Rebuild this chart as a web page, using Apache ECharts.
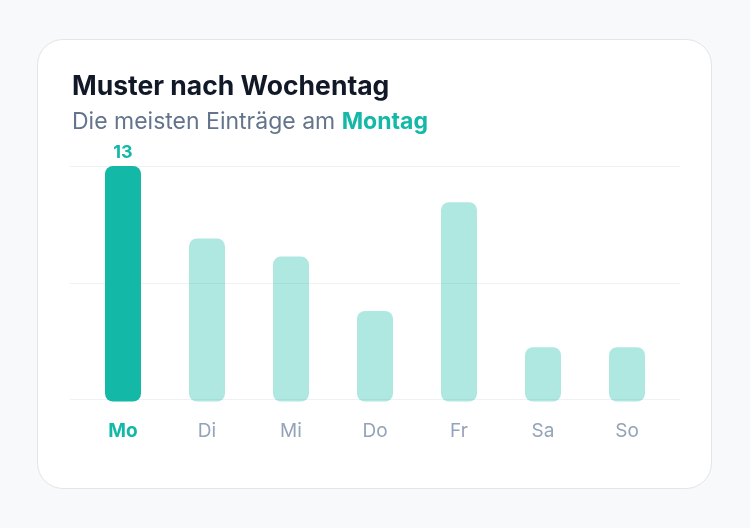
<!DOCTYPE html>
<html>
<head>
<meta charset="utf-8">
<script src="https://cdn.jsdelivr.net/npm/echarts@6/dist/echarts.min.js"></script>
<style>
  html, body { margin: 0; padding: 0; background: #f8f9fa; }
  #card {
    position: absolute; left: 37px; top: 39px; width: 673px; height: 448px;
    background: #fff; border: 1.5px solid #e2e5eb; border-radius: 26px;
  }
  #chart { position: absolute; left: 0; top: 0; width: 750px; height: 528px; }
</style>
</head>
<body>
<div id="card"></div>
<div id="chart"></div>
<script>
var days = ['Mo', 'Di', 'Mi', 'Do', 'Fr', 'Sa', 'So'];
var counts = [13, 9, 8, 5, 11, 3, 3];
var topDay = 'Montag';

var teal = '#14b8a6';
var tealLight = 'rgba(20,184,166,0.34)';
var maxIdx = counts.indexOf(Math.max.apply(null, counts));

var barData = counts.map(function (v, i) {
  return {
    value: v,
    itemStyle: { color: i === maxIdx ? teal : tealLight },
    label: { show: i === maxIdx }
  };
});

var myChart = echarts.init(document.getElementById('chart'));
var option = {
  backgroundColor: 'transparent',
  textStyle: { fontFamily: 'Inter' },
  title: {
    left: 72, top: 74, itemGap: 9.5, padding: 0,
    text: 'Muster nach Wochentag',
    textStyle: { fontSize: 26.5, fontWeight: 'bold', color: '#111827', fontFamily: 'Inter' },
    subtext: '{a|Die meisten Einträge am }{b|' + topDay + '}',
    subtextStyle: {
      rich: {
        a: { fontSize: 23, color: '#64748b', fontFamily: 'Inter' },
        b: { fontSize: 23, color: teal, fontWeight: 'bold', fontFamily: 'Inter' }
      }
    }
  },
  grid: [
    { left: 81, right: 81, top: 166, bottom: 126.5 },
    { left: 70, right: 70, top: 166.7, bottom: 129 }
  ],
  xAxis: [
    {
      type: 'category', gridIndex: 0, data: days,
      axisLine: { show: false }, axisTick: { show: false },
      axisLabel: {
        margin: 20,
        formatter: function (v, i) { return i === maxIdx ? '{h|' + v + '}' : '{n|' + v + '}'; },
        rich: {
          h: { fontSize: 19, fontWeight: 'bold', color: teal, fontFamily: 'Inter' },
          n: { fontSize: 19, color: '#94a3b8', fontFamily: 'Inter' }
        }
      }
    },
    { type: 'category', gridIndex: 1, data: days, show: false }
  ],
  yAxis: [
    { type: 'value', gridIndex: 0, min: 0, max: 13, show: false },
    {
      type: 'value', gridIndex: 1, min: 0, max: 13, interval: 6.5,
      axisLine: { show: false }, axisTick: { show: false }, axisLabel: { show: false },
      splitLine: { lineStyle: { color: '#eef1f5', width: 1 } }
    }
  ],
  series: [{
    type: 'bar', xAxisIndex: 0, yAxisIndex: 0,
    data: barData, barWidth: 36,
    itemStyle: { borderRadius: 8 },
    label: {
      position: 'top', distance: 4,
      fontSize: 18, fontWeight: 'bold', color: teal, fontFamily: 'Inter'
    },
    silent: true
  }],
  animation: false
};
myChart.setOption(option);
</script>
</body>
</html>
